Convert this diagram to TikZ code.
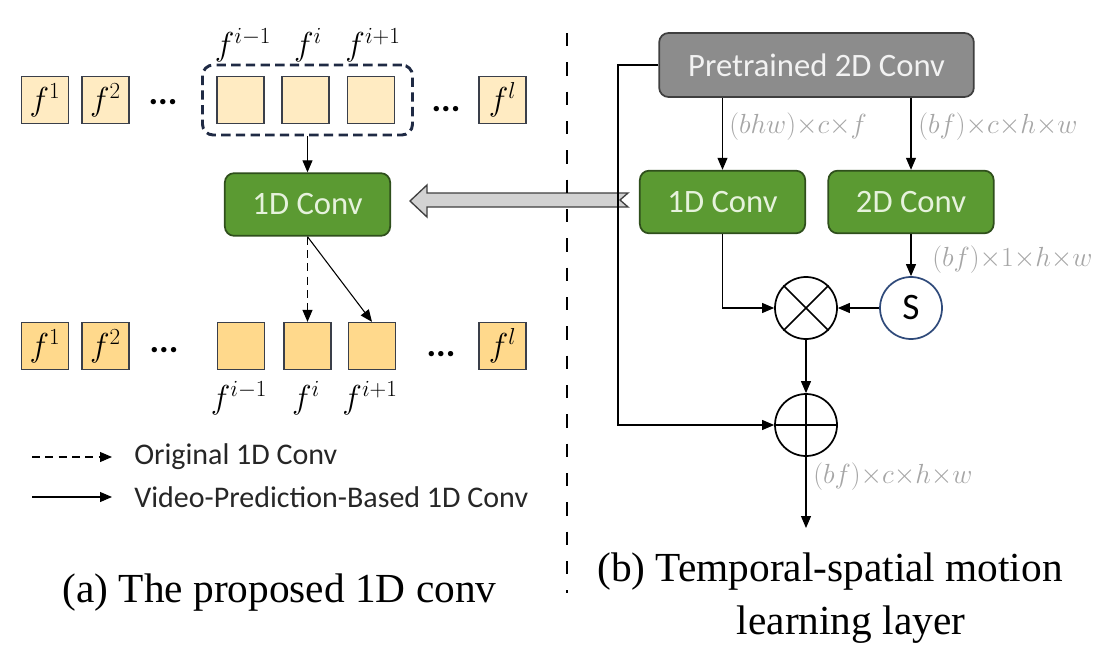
\documentclass[tikz,border=0pt]{standalone}
\usepackage{fontspec}
\setmainfont{Liberation Serif}
\newfontfamily\calib{Carlito}
\usetikzlibrary{arrows.meta,calc}
\definecolor{fillA}{HTML}{FFEBC2}
\definecolor{fillB}{HTML}{FFD98C}
\definecolor{boxline}{HTML}{3A3F4A}
\definecolor{grn}{HTML}{5B9A32}
\definecolor{grnline}{HTML}{2F4F1C}
\definecolor{grntxt}{HTML}{E6F2DC}
\definecolor{gry}{HTML}{8C8C8C}
\definecolor{gryline}{HTML}{3F3F3F}
\definecolor{grytxt}{HTML}{F2F2F2}
\definecolor{lbl}{HTML}{A6A6A6}
\definecolor{navy}{HTML}{1F2A44}
\definecolor{sblue}{HTML}{2F4A7A}
\definecolor{blockfill}{HTML}{D2D2D2}
\definecolor{txt}{HTML}{262626}
\newcommand{\tx}{{\times}}
\begin{document}
\begin{tikzpicture}[x=0.75pt,y=-0.75pt,
  frame/.style={draw=boxline,line width=1.2pt,minimum width=35pt,minimum height=35pt,inner sep=0pt,font=\fontsize{25}{27}\selectfont},
  fa/.style={frame,fill=fillA},
  fb/.style={frame,fill=fillB},
  grp/.style={draw=navy,line width=2.2pt,dash pattern=on 7pt off 4pt,rounded corners=8pt,minimum width=157.5pt,minimum height=52.5pt,inner sep=0pt},
  greenbox/.style={draw=grnline,line width=1.3pt,fill=grn,rounded corners=7pt,minimum width=124pt,minimum height=47pt,text=grntxt,font=\calib\fontsize{24.5}{26}\selectfont},
  graybox/.style={draw=gryline,line width=1.3pt,fill=gry,rounded corners=7pt,minimum width=236pt,minimum height=48pt,text=grytxt,font=\calib\fontsize{24.5}{26}\selectfont},
  opcirc/.style={circle,draw=black,line width=1.3pt,minimum size=46.5pt,inner sep=0pt},
  flabel/.style={font=\fontsize{25}{27}\selectfont,inner sep=0pt},
  dimlabel/.style={text=lbl,font=\fontsize{20.74}{23}\selectfont,inner sep=0pt,anchor=west},
  dotsty/.style={font=\calib\bfseries\fontsize{27}{29}\selectfont,inner sep=0pt,anchor=base},
  legtext/.style={text=txt,font=\calib\fontsize{22.5}{24}\selectfont,inner sep=0pt,anchor=west},
  captext/.style={font=\fontsize{31}{34}\selectfont,inner sep=0pt},
  arr/.style={line width=0.8pt,-{Triangle[length=9pt,width=7.5pt]}},
  divider/.style={line width=2.2pt,dash pattern=on 10pt off 12pt}
]
\useasboundingbox (0,0) rectangle (1110,646);

% ---------- (a) top row
\node[fa] (t1) at (45,100) {$f^1$};
\node[fa] (t2) at (105.5,100) {$f^2$};
\node[dotsty] (td1) at (163,104) {...};
\node[fa] (tm) at (240.5,100) {};
\node[fa] (ti) at (305.5,100) {};
\node[fa] (tp) at (371,100) {};
\node[dotsty] (td2) at (446,111) {...};
\node[fa] (tl) at (502.5,100) {$f^l$};
\node[grp] (grp) at (307.5,100) {};
\node[flabel] (ltm) at (243,45) {$f^{i-1}$};
\node[flabel] (lti) at (308,45) {$f^{i}$};
\node[flabel] (ltp) at (373,45) {$f^{i+1}$};

% ---------- (a) 1D conv
\node[greenbox] (conv1a) at (307.5,204.5) {1D Conv};

% ---------- (a) bottom row
\node[fb] (b1) at (45,346) {$f^1$};
\node[fb] (b2) at (105.5,346) {$f^2$};
\node[dotsty] (bd1) at (164,352) {...};
\node[fb] (bm) at (241,346) {};
\node[fb] (bi) at (307.5,346) {};
\node[fb] (bp) at (372,346) {};
\node[dotsty] (bd2) at (441,356) {...};
\node[fb] (bl) at (502.5,346) {$f^l$};
\node[flabel] (lbm) at (239,398) {$f^{i-1}$};
\node[flabel] (lbi) at (306,398) {$f^{i}$};
\node[flabel] (lbp) at (370,398) {$f^{i+1}$};

\draw[arr] (grp.south) -- (conv1a.north);
\draw[arr,dash pattern=on 6pt off 4pt] (conv1a.south) -- (bi.north);
\draw[arr] (conv1a.south) -- (bp.north);

% ---------- legend
\coordinate (l1s) at (32,457);
\coordinate (l1e) at (112,457);
\coordinate (l2s) at (32,497);
\coordinate (l2e) at (112,497);
\draw[arr,dash pattern=on 6pt off 4pt] (l1s) -- (l1e);
\draw[arr] (l2s) -- (l2e);
\node[legtext] (leg1) at (134,457) {Original 1D Conv};
\node[legtext] (leg2) at (134,497) {Video-Prediction-Based 1D Conv};

\node[captext] (capa) at (279.5,593) {(a) The proposed 1D conv};

% ---------- (b)
\node[graybox] (pre) at (816.5,65) {Pretrained 2D Conv};
\node[greenbox] (conv1b) at (722.5,202) {1D Conv};
\node[greenbox] (conv2) at (911,202) {2D Conv};
\node[opcirc] (mul) at (806,308) {};
\draw[line width=1.3pt] (mul.north west) -- (mul.south east) (mul.north east) -- (mul.south west);
\node[opcirc,draw=sblue,font=\calib\fontsize{28}{30}\selectfont] (sig) at (911,308) {S};
\node[opcirc] (add) at (806,425) {};
\draw[line width=1.3pt] (add.north) -- (add.south) (add.west) -- (add.east);

% block arrow
\fill[blockfill,draw=gryline,line width=1pt,line join=miter]
  (410,201) -- (427,185) -- (427,193) -- (628,193) -- (620,200) -- (628,207) -- (427,207) -- (427,217) -- cycle;

\draw[arr] (pre.south -| conv1b.north) -- (conv1b.north);
\draw[arr] (pre.south -| conv2.north) -- (conv2.north);
\draw[arr] (conv2.south) -- (sig.north);
\draw[arr] (sig.west) -- (mul.east);
\draw[arr] (conv1b.south) |- (mul.west);
\draw[arr] (mul.south) -- (add.north);
\coordinate (skip) at (618,65);
\draw[arr] (pre.west) -- (skip) |- (add.west);
\coordinate (outp) at (806,528);
\draw[arr] (add.south) -- (outp);

\node[dimlabel] (d1) at (729,127) {$(bhw)\tx c\tx f$};
\node[dimlabel] (d2) at (918,127) {$(bf)\tx c\tx h\tx w$};
\node[dimlabel] (d3) at (932,260) {$(bf)\tx 1\tx h\tx w$};
\node[dimlabel] (d4) at (813,477) {$(bf)\tx c\tx h\tx w$};

% divider
\coordinate (dv1) at (567,33);
\coordinate (dv2) at (567,593);
\draw[divider] (dv1) -- (dv2);

\node[captext] (capb1) at (830,572) {(b) Temporal-spatial motion};
\node[captext] (capb2) at (851,625) {learning layer};
\end{tikzpicture}
\end{document}
